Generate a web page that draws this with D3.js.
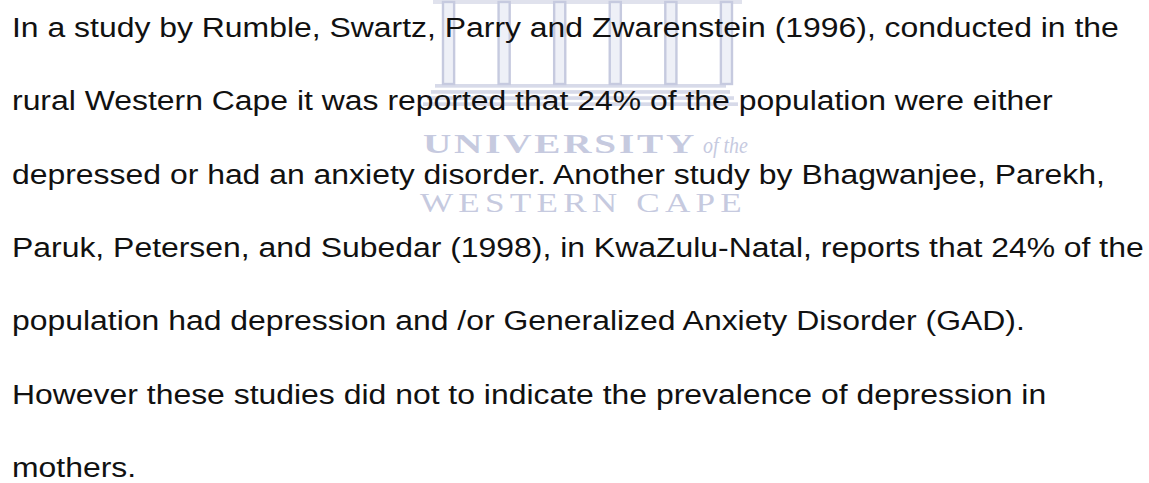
<!DOCTYPE html>
<html>
    <head>
        <meta charset="utf-8">
        <title>Prevalence of depression</title>
        <script src="https://d3js.org/d3.v7.min.js"></script>
        <style>
            body { margin: 0; background: #fff; }
            svg { display: block; }
        </style>
    </head>
    <body>
        <div id="container"></div>
        <script>
            // Text lines of the paragraph
            const lines = [
                "In a study by Rumble, Swartz, Parry and Zwarenstein (1996), conducted in the",
                "rural Western Cape it was reported that 24% of the population were either",
                "depressed or had an anxiety disorder. Another study by Bhagwanjee, Parekh,",
                "Paruk, Petersen, and Subedar (1998), in KwaZulu-Natal, reports that 24% of the",
                "population had depression and /or Generalized Anxiety Disorder (GAD).",
                "However these studies did not to indicate the prevalence of depression in",
                "mothers."
            ]
            // Watermark pieces
            const columns = [1, 2, 3, 4, 5, 6]
            const steps = [1, 2, 3, 4]
            const wmWords = ["UNIVERSITY", "of the", "WESTERN CAPE"]

            const w = 1149
            const h = 483
            const wmColor = "#c6cadf"
            const serif = "Liberation Serif, DejaVu Serif, serif"

            const svg = d3.select("#container")
                .append("svg")
                .attr("width", w)
                .attr("height", h)

            // Watermark building
            const wm = svg.append("g").attr("id", "watermark")

            const colX = d3.scaleBand()
                .domain(columns)
                .range([443, 732])
                .paddingInner(0.8)
                .paddingOuter(0)

            const stepY = d3.scaleBand()
                .domain(steps)
                .range([84, 106])
                .paddingInner(0.4)

            const left = colX(1)
            const right = colX(6) + colX.bandwidth()

            // beam on top
            wm.append("rect")
                .attr("x", left - 10)
                .attr("y", 0)
                .attr("width", right - left + 20)
                .attr("height", 4)
                .attr("fill", wmColor)
                .attr("opacity", 0.55)

            // columns drawn as outlined shafts
            wm.selectAll("rect.col")
                .data(columns)
                .enter()
                .append("rect")
                .attr("class", "col")
                .attr("x", d => colX(d))
                .attr("y", 2)
                .attr("width", colX.bandwidth())
                .attr("height", 82)
                .attr("fill", "#eef0f7")
                .attr("stroke", wmColor)
                .attr("stroke-width", 2.4)

            // steps
            wm.selectAll("rect.step")
                .data(steps)
                .enter()
                .append("rect")
                .attr("class", "step")
                .attr("x", d => 423 + (4 - d) * 4)
                .attr("y", d => stepY(d))
                .attr("width", d => 315 - (4 - d) * 8)
                .attr("height", stepY.bandwidth())
                .attr("fill", wmColor)
                .attr("opacity", 0.7)

            // watermark words, glyphs widened to fill the logo width
            wm.append("text")
                .attr("x", 423)
                .attr("y", 153)
                .attr("font-family", serif)
                .attr("font-weight", "bold")
                .attr("font-size", 28)
                .attr("letter-spacing", 2)
                .attr("textLength", 274)
                .attr("lengthAdjust", "spacingAndGlyphs")
                .attr("fill", wmColor)
                .text(wmWords[0])

            wm.append("text")
                .attr("x", 703)
                .attr("y", 153)
                .attr("font-family", serif)
                .attr("font-style", "italic")
                .attr("font-size", 23)
                .attr("textLength", 45)
                .attr("lengthAdjust", "spacingAndGlyphs")
                .attr("fill", wmColor)
                .text(wmWords[1])

            wm.append("text")
                .attr("x", 420)
                .attr("y", 212)
                .attr("font-family", serif)
                .attr("font-size", 27)
                .attr("letter-spacing", 4)
                .attr("textLength", 327)
                .attr("lengthAdjust", "spacingAndGlyphs")
                .attr("fill", wmColor)
                .text(wmWords[2])

            // Paragraph (the page is stretched sideways)
            const lineY = d3.scaleLinear()
                .domain([0, lines.length - 1])
                .range([37, 477])

            svg.append("g")
                .attr("id", "paragraph")
                .attr("transform", "translate(12,0) scale(1.14,1)")
                .selectAll("text")
                .data(lines)
                .enter()
                .append("text")
                .attr("x", 0)
                .attr("y", (d, i) => lineY(i))
                .attr("font-family", "Liberation Sans, Arial, sans-serif")
                .attr("font-size", 28)
                .attr("fill", "#111")
                .text(d => d)
        </script>
    </body>
</html>
